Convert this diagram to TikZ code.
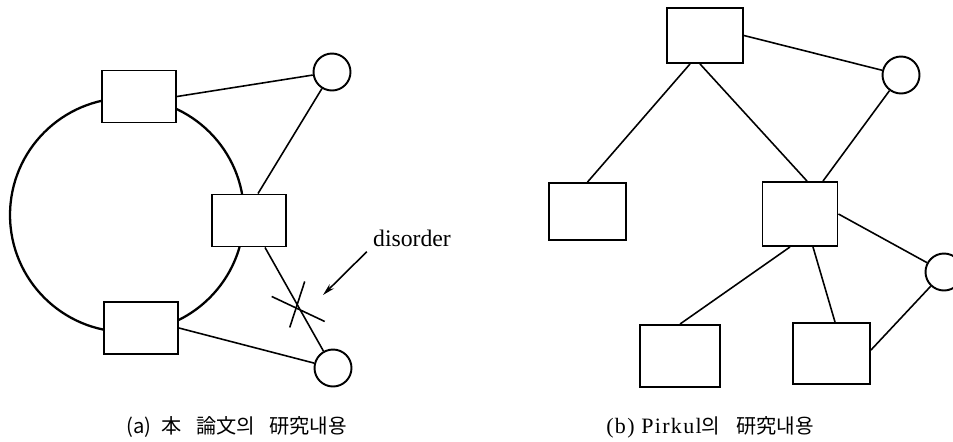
\documentclass[tikz,border=0pt]{standalone}
\usepackage{fontspec}
\setmainfont{Liberation Serif}
\newfontfamily\kr{Noto Sans CJK KR}
\newfontfamily\wide[LetterSpace=6]{Liberation Serif}
\usetikzlibrary{arrows.meta}
\tikzset{
    box/.style = {draw, rectangle, fill=white, line width=1.1pt,
        minimum width=1.48cm, minimum height=1.04cm, inner sep=0pt},
    site/.style = {draw, circle, fill=white, line width=1.1pt,
        minimum size=0.74cm, inner sep=0pt},
    link/.style = {draw, line width=0.9pt},
    ring/.style = {draw, line width=1.3pt},
    caption/.style = {font=\fontsize{11.5}{13}\selectfont, inner sep=0pt}
}

\begin{document}
\begin{tikzpicture}[x=0.02cm,y=-0.02cm]
    \clip (0,0) rectangle (953,441);
    % (a) boxes on the ring
    \draw[ring] (127,215) circle[radius=2.34cm];
    \node[box] (A) at (139,96.5) {};
    \node[box] (B) at (249,220.5) {};
    \node[box] (C) at (141,328) {};
    \node[site] (c1) at (332,72) {};
    \node[site] (c2) at (333,368) {};
    \draw[link] (A.east) -- (c1);
    \draw[link] (c1) -- ([xshift=0.18cm]B.north);
    \draw[link] ([xshift=0.32cm]B.south) -- coordinate[pos=0.56] (cut) (c2);
    \draw[link] (C.east) -- (c2);
    % broken link
    \draw[link] (cut) ++(-26,-9) -- ++(53,25);
    \draw[link] (cut) ++(7,-24) -- ++(-15,46);
    \node[font=\fontsize{13.5}{15}\selectfont, inner sep=0pt] (dis) at (412,238) {disorder};
    \coordinate (hit) at (323,295);
    \draw[link, -{Stealth[length=7pt,width=3.5pt]}] ([shift={(-6,5)}]dis.south west) -- (hit);
    % (b) tree
    \node[box, minimum width=1.52cm, minimum height=1.1cm] (D) at (705,35.5) {};
    \node[box, minimum width=1.54cm, minimum height=1.14cm] (E) at (587.5,211.5) {};
    \node[box, minimum width=1.5cm, minimum height=1.28cm] (F) at (800,214) {};
    \node[box, minimum width=1.6cm, minimum height=1.24cm] (G) at (680,356) {};
    \node[box, minimum width=1.54cm, minimum height=1.22cm] (H) at (831.5,353.5) {};
    \node[site] (c3) at (901,75) {};
    \node[site] (c4) at (944,272) {};
    \draw[link] (D.east) -- (c3);
    \draw[link] ([xshift=-0.3cm]D.south) -- (E.north);
    \draw[link] ([xshift=-0.1cm]D.south) -- ([xshift=0.14cm]F.north);
    \draw[link] (c3) -- ([xshift=0.46cm]F.north);
    \draw[link] (F.east) -- (c4);
    \draw[link] ([xshift=-0.2cm]F.south) -- (G.north);
    \draw[link] ([xshift=0.26cm]F.south) -- ([xshift=0.07cm]H.north);
    \draw[link] (c4) -- ([yshift=0.07cm]H.east);
    % captions
    \node[caption] (capa) at (236.5,427) {\kr (a)\hspace{6pt}本\hspace{8pt}論文의\hspace{8pt}研究내용};
    \node[caption] (capb) at (710,427) {{\wide\fontsize{12.5}{13}\selectfont (b) Pirkul}{\kr 의\hspace{9pt}研究내용}};
\end{tikzpicture}
\end{document}
